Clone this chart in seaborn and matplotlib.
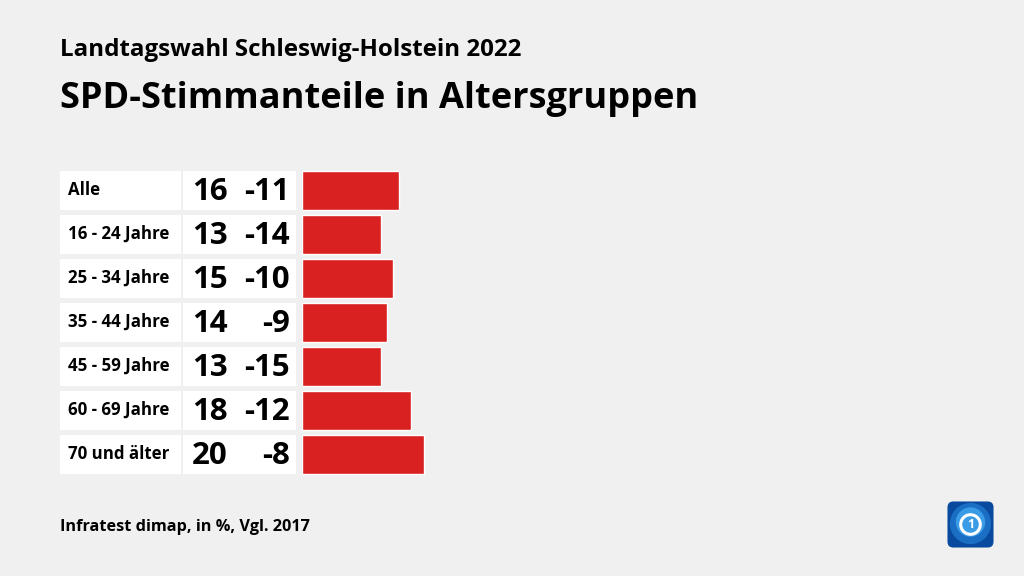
import matplotlib
matplotlib.use("Agg")
import matplotlib.pyplot as plt
import matplotlib.patches as mpatches
from matplotlib.transforms import blended_transform_factory
import seaborn as sns
import pandas as pd

# data
groups = ['Alle', '16 - 24 Jahre', '25 - 34 Jahre', '35 - 44 Jahre',
          '45 - 59 Jahre', '60 - 69 Jahre', '70 und älter']
share = [16, 13, 15, 14, 13, 18, 20]
diff = [-11, -14, -10, -9, -15, -12, -8]

df = pd.DataFrame({'group': groups, 'share': share, 'diff': diff})

bg = '#f0f0f0'
red = '#d92121'

sns.set_theme(style='white')
plt.rcParams['font.family'] = ['Open Sans', 'DejaVu Sans']
plt.rcParams['text.color'] = 'black'

W, H = 1024, 576
fig = plt.figure(figsize=(W / 100, H / 100), dpi=100, facecolor=bg)

# bar axes: starts at x=302px, 6.1 px per percent point
ax_left = 301.5 / W
ax_w = 6.1 * 40 / W
ax_top = 168.2
ax_h = 308
ax = fig.add_axes([ax_left, (H - ax_top - ax_h) / H, ax_w, ax_h / H])
ax.set_facecolor('none')

sns.barplot(data=df, x='share', y='group', orient='h', color=red,
            width=39 / 44, saturation=1, ax=ax)
ax.set_xlim(0, 40)
ax.set_ylim(len(groups) - 0.5, -0.5)
ax.axis('off')

# white boxes behind labels and numbers
tr = blended_transform_factory(fig.transFigure, ax.transData)
hb = 39 / 44
for i, row in df.iterrows():
    ax.add_patch(mpatches.Rectangle((60 / W, i - hb / 2), 121 / W, hb,
                                    transform=tr, facecolor='white',
                                    edgecolor='none', clip_on=False, zorder=0))
    ax.add_patch(mpatches.Rectangle((183 / W, i - hb / 2), 113 / W, hb,
                                    transform=tr, facecolor='white',
                                    edgecolor='none', clip_on=False, zorder=0))
    ax.text(68 / W, i, row['group'], transform=tr, ha='left', va='center',
            fontsize=12.2, fontweight='bold', color='black')
    ax.text(192 / W, i + 0.04, str(row['share']), transform=tr, ha='left',
            va='center', fontsize=22.5, fontweight='bold', color='black')
    ax.text(290 / W, i + 0.04, str(row['diff']), transform=tr, ha='right',
            va='center', fontsize=22.5, fontweight='bold', color='black')

# titles
fig.text(60 / W, 1 - 50 / H, 'Landtagswahl Schleswig-Holstein 2022',
         ha='left', va='center', fontsize=17.4, fontweight='bold')
fig.text(60 / W, 1 - 99 / H, 'SPD-Stimmanteile in Altersgruppen',
         ha='left', va='center', fontsize=26, fontweight='bold')
fig.text(60 / W, 1 - 527 / H, 'Infratest dimap, in %, Vgl. 2017',
         ha='left', va='center', fontsize=11.7, fontweight='bold')

# logo
lax = fig.add_axes([946 / W, (H - 549) / H, 49 / W, 49 / H])
lax.set_xlim(0, 1)
lax.set_ylim(0, 1)
lax.axis('off')
lax.add_patch(mpatches.FancyBboxPatch((0.03, 0.03), 0.94, 0.94,
                                      boxstyle='round,pad=0,rounding_size=0.12',
                                      facecolor='#0a4a9e', edgecolor='none'))
lax.add_patch(mpatches.Circle((0.5, 0.52), 0.42, facecolor='#1a6fc4', edgecolor='none'))
lax.add_patch(mpatches.Circle((0.5, 0.55), 0.3, facecolor='#3a9be6', edgecolor='none'))
lax.add_patch(mpatches.Circle((0.5, 0.5), 0.2, facecolor='none', edgecolor='white', lw=2.2))
lax.text(0.5, 0.49, '1', ha='center', va='center', fontsize=9,
         fontweight='bold', color='white')

fig.savefig('out.png', dpi=100, facecolor=bg)
